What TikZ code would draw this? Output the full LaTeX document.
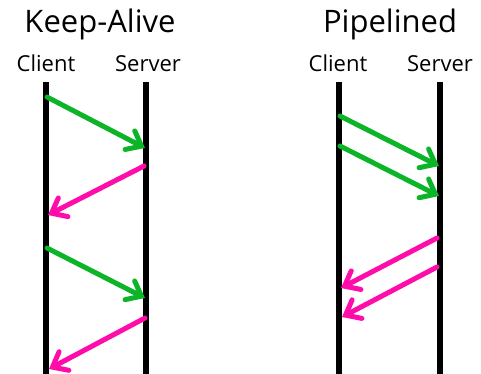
\documentclass[tikz,border=0pt]{standalone}
\usepackage{fontspec}
\setmainfont{Open Sans}
\usetikzlibrary{arrows.meta}
\definecolor{reqgreen}{RGB}{12,180,40}
\definecolor{resppink}{RGB}{255,12,170}
\tikzset{
    title/.style={anchor=base, font=\fontsize{31}{31}\selectfont},
    party/.style={anchor=base, font=\fontsize{22}{22}\selectfont},
    life/.style={line width=5.5pt, black},
    msg/.style={line width=5pt, line cap=round,
        -{Straight Barb[length=13pt, width=21pt, line cap=round]}},
    req/.style={msg, reqgreen},
    resp/.style={msg, resppink}
}

\begin{document}
\begin{tikzpicture}[x=1pt, y=-1pt]
    \useasboundingbox (0,0) rectangle (481,373);
    % Keep-Alive
    \node[title] (kaTitle) at (100,32) {Keep-Alive};
    \node[party] (kaClient) at (46,71) {Client};
    \node[party] (kaServer) at (148,71) {Server};
    \coordinate (kaCtop) at (46,82);  \coordinate (kaCbot) at (46,376);
    \coordinate (kaStop) at (146,82); \coordinate (kaSbot) at (146,376);
    \draw[life] (kaCtop) -- (kaCbot);
    \draw[life] (kaStop) -- (kaSbot);
    \coordinate (ka1a) at (47,97);   \coordinate (ka1b) at (145,148);
    \coordinate (ka2a) at (144,166); \coordinate (ka2b) at (48,215);
    \coordinate (ka3a) at (47,248);  \coordinate (ka3b) at (145,298);
    \coordinate (ka4a) at (145,318); \coordinate (ka4b) at (49,369);
    \draw[req] (ka1a) -- (ka1b);
    \draw[resp] (ka2a) -- (ka2b);
    \draw[req] (ka3a) -- (ka3b);
    \draw[resp] (ka4a) -- (ka4b);
    % Pipelined
    \node[title] (plTitle) at (390,32) {Pipelined};
    \node[party] (plClient) at (338,71) {Client};
    \node[party] (plServer) at (440,71) {Server};
    \coordinate (plCtop) at (339,82);  \coordinate (plCbot) at (339,376);
    \coordinate (plStop) at (440,82);  \coordinate (plSbot) at (440,376);
    \draw[life] (plCtop) -- (plCbot);
    \draw[life] (plStop) -- (plSbot);
    \coordinate (pl1a) at (340,116); \coordinate (pl1b) at (439,166);
    \coordinate (pl2a) at (340,146); \coordinate (pl2b) at (439,196);
    \coordinate (pl3a) at (437,238); \coordinate (pl3b) at (341,288);
    \coordinate (pl4a) at (437,267); \coordinate (pl4b) at (342,317);
    \draw[req] (pl1a) -- (pl1b);
    \draw[req] (pl2a) -- (pl2b);
    \draw[resp] (pl3a) -- (pl3b);
    \draw[resp] (pl4a) -- (pl4b);
\end{tikzpicture}
\end{document}
